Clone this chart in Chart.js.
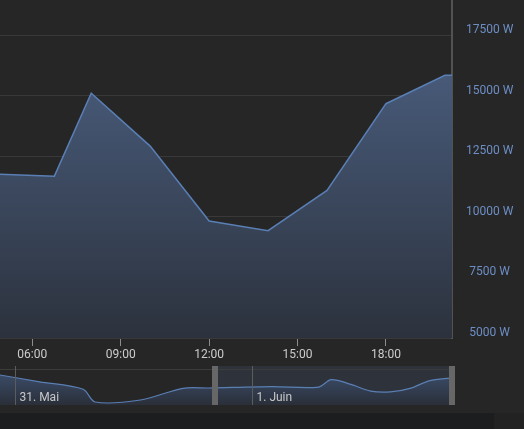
<!DOCTYPE html>
<html>
<head>
<meta charset="utf-8">
<script src="https://cdn.jsdelivr.net/npm/chart.js@4.4.1/dist/chart.umd.min.js"></script>
<style>
  html, body { margin: 0; padding: 0; background: #262626; }
  #wrap { position: relative; width: 524px; height: 429px; background: #262626; overflow: hidden; }
  #main { position: absolute; left: 0; top: 0; }
  #nav { position: absolute; left: 0; top: 366px; }
  #track { position: absolute; left: 0; top: 413px; width: 494px; height: 16px; background: #1c1d1f; }
  #trackEnd { position: absolute; left: 494px; top: 413px; width: 30px; height: 16px; background: #222222; }
</style>
</head>
<body>
<div id="wrap">
  <canvas id="main" width="524" height="362"></canvas>
  <canvas id="nav" width="524" height="39"></canvas>
  <div id="track"></div>
  <div id="trackEnd"></div>
</div>
<script>
// hours counted from 31 May 00:00, power in W
const hours = [-2, 2.5, 6.9, 8.1, 12.7, 17, 19.6, 26, 30.75, 32, 34, 36, 38, 40, 42, 44, 44.25];
const watts = [17620, 14100, 10650, 4790, 5710, 11110, 11250, 11890, 11680, 15100, 12920, 9830, 9430, 11090, 14670, 15840, 15840];

const xTickHours = [30, 33, 36, 39, 42];          // 06:00 .. 18:00 on 1 June
const yTicks = [5000, 7500, 10000, 12500, 15000, 17500];
const navDayHours = [0, 24];
const navDayLabels = ['31. Mai', '1. Juin'];

const viewStart = 28.905, viewEnd = 44.24;        // visible part of the main plot
const navStart = -1.52, navEnd = 44.24;           // navigator range
const selStart = 20.24, selEnd = 44.24;           // navigator handles

const points = hours.map((h, i) => ({ x: h, y: watts[i] }));
const FONT = { family: 'Roboto', size: 12 };
const LINE = '#5a7fb5';

function gradient(top, bottom) {
  return (ctx) => {
    const a = ctx.chart.chartArea;
    if (!a) return 'rgba(0,0,0,0)';
    const g = ctx.chart.ctx.createLinearGradient(0, a.top, 0, a.bottom);
    g.addColorStop(0, top);
    g.addColorStop(1, bottom);
    return g;
  };
}

new Chart(document.getElementById('main'), {
  type: 'line',
  data: {
    datasets: [{
      data: points,
      borderColor: LINE,
      borderWidth: 1.5,
      backgroundColor: gradient('#4f6589', '#2c323d'),
      fill: 'start',
      pointRadius: 0,
      tension: 0
    }]
  },
  options: {
    responsive: false,
    animation: false,
    layout: { padding: 0 },
    plugins: { legend: { display: false }, tooltip: { enabled: false } },
    scales: {
      x: {
        type: 'linear',
        min: viewStart,
        max: viewEnd,
        afterBuildTicks: (s) => { s.ticks = xTickHours.map((h) => ({ value: h })); },
        afterFit: (s) => { s.height = 24; s.paddingLeft = 0; s.paddingRight = 0; },
        grid: { drawOnChartArea: false, drawTicks: true, tickLength: 8, color: '#8c8c8c' },
        border: { display: false },
        ticks: {
          color: '#cccccc',
          font: FONT,
          padding: 2,
          maxRotation: 0,
          autoSkip: false,
          callback: (v) => String(v % 24).padStart(2, '0') + ':00'
        }
      },
      y: {
        position: 'right',
        min: 5000,
        max: 18950,
        afterBuildTicks: (s) => { s.ticks = yTicks.map((v) => ({ value: v })); },
        afterFit: (s) => { s.width = 72; s.paddingTop = 0; s.paddingBottom = 0; },
        grid: { color: '#393939', drawTicks: false },
        border: { color: '#525252', width: 2 },
        ticks: {
          color: '#6d8ec5',
          font: FONT,
          padding: 14,
          crossAlign: 'center',
          labelOffset: -5,
          callback: (v) => v + ' W'
        }
      }
    }
  }
});

// navigator extras: selection mask, outline, day lines + labels, handles
const navExtras = {
  id: 'navExtras',
  beforeDatasetsDraw(chart) {
    const { ctx, chartArea: a, scales: { x } } = chart;
    ctx.save();
    const x0 = x.getPixelForValue(selStart), x1 = x.getPixelForValue(selEnd);
    ctx.fillStyle = 'rgba(102,133,194,0.14)';
    ctx.fillRect(x0, 0, x1 - x0, chart.height);
    ctx.strokeStyle = '#3c3c3c';
    ctx.lineWidth = 1;
    ctx.beginPath();
    ctx.moveTo(0, 3.5);
    ctx.lineTo(a.right, 3.5);
    ctx.stroke();
    ctx.restore();
  },
  afterDraw(chart) {
    const { ctx, chartArea: a, scales: { x } } = chart;
    ctx.save();
    ctx.strokeStyle = '#5c5c5c';
    ctx.lineWidth = 1;
    ctx.fillStyle = '#c8c8c8';
    ctx.font = '12px Roboto';
    ctx.textBaseline = 'middle';
    navDayHours.forEach((h, i) => {
      const px = Math.round(x.getPixelForValue(h)) + 0.5;
      ctx.beginPath();
      ctx.moveTo(px, 0);
      ctx.lineTo(px, a.bottom);
      ctx.stroke();
      ctx.fillText(navDayLabels[i], px + 4, 31.5);
    });
    ctx.fillStyle = '#676767';
    [selStart, selEnd].forEach((h) => {
      const px = Math.round(x.getPixelForValue(h));
      ctx.fillRect(px - 3, 0, 6, chart.height);
    });
    ctx.restore();
  }
};

new Chart(document.getElementById('nav'), {
  type: 'line',
  data: {
    datasets: [{
      data: points,
      borderColor: LINE,
      borderWidth: 1.2,
      backgroundColor: gradient('#3f5374', '#2a2f39'),
      fill: 'start',
      pointRadius: 0,
      tension: 0.3
    }]
  },
  options: {
    responsive: false,
    animation: false,
    layout: { padding: { left: 0, top: 0, bottom: 0, right: 72 } },
    plugins: { legend: { display: false }, tooltip: { enabled: false } },
    scales: {
      x: { type: 'linear', min: navStart, max: navEnd, display: false },
      y: { min: 3400, max: 21400, display: false }
    }
  },
  plugins: [navExtras]
});
</script>
</body>
</html>
